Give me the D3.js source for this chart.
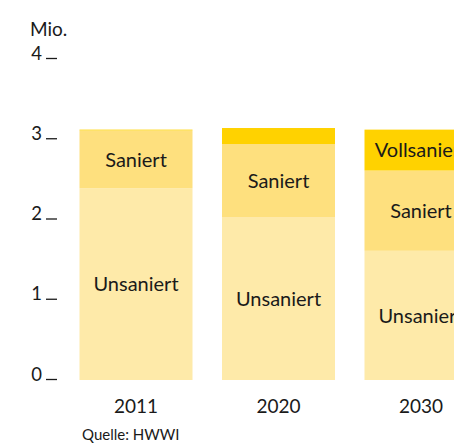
<!DOCTYPE html>
<html><head><meta charset="utf-8">
<script src="https://cdn.jsdelivr.net/npm/d3@7"></script>
<style>
html,body{margin:0;padding:0;background:#fff;overflow:hidden;}
svg{display:block;font-family:Lato, "Open Sans", sans-serif;}
</style></head>
<body>
<svg id="chart" width="454" height="443"></svg>
<script>
const categories = ["2011", "2020", "2030"];
const seriesNames = ["Unsaniert", "Saniert", "Vollsaniert"];
const unsaniert = [2.39, 2.03, 1.61];
const saniert = [0.72, 0.91, 1.00];
const vollsaniert = [0.01, 0.20, 0.51];
const showLabel = [[true, true, false], [true, true, false], [true, true, true]];
const yTicks = [0, 1, 2, 3, 4];
const yUnit = "Mio.";
const source = "Quelle: HWWI";
const colors = ["#feeaa9", "#fee07e", "#ffd200"];

const svg = d3.select("#chart");
const x = d3.scaleBand().domain(categories).range([79.5, 477.5]).paddingInner(0.207).paddingOuter(0);
const y = d3.scaleLinear().domain([0, 4]).range([380, 59]);

const rows = categories.map((c, i) => ({cat: c, i, Unsaniert: unsaniert[i], Saniert: saniert[i], Vollsaniert: vollsaniert[i]}));
const stack = d3.stack().keys(seriesNames)(rows);

const g = svg.append("g");
stack.forEach((layer, si) => {
  g.selectAll(null).data(layer).enter().append("rect")
    .attr("x", d => x(d.data.cat))
    .attr("width", x.bandwidth())
    .attr("y", d => y(d[1]))
    .attr("height", d => y(d[0]) - y(d[1]))
    .attr("fill", colors[si]);
});
stack.forEach((layer, si) => {
  g.selectAll(null).data(layer.filter(d => showLabel[d.data.i][si])).enter().append("text")
    .attr("x", d => x(d.data.cat) + x.bandwidth() / 2)
    .attr("y", d => y((d[0] + d[1]) / 2))
    .attr("dy", "0.36em")
    .attr("text-anchor", "middle")
    .attr("font-size", 20)
    .attr("fill", "#1a1a1a")
    .text(seriesNames[si]);
});

// y axis
const yAxis = d3.axisLeft(y).tickValues(yTicks).tickSize(0).tickPadding(0).tickFormat(d3.format("d"));
const ya = svg.append("g").attr("transform", "translate(42,0)").call(yAxis);
ya.select(".domain").remove();
ya.selectAll("text").attr("font-size", 18.5).attr("fill", "#1a1a1a").attr("dy", 0)
  .attr("font-family", "Lato, 'Open Sans', sans-serif");
ya.selectAll(".tick").append("line").attr("x1", 4).attr("x2", 15).attr("y1", -1).attr("y2", -1)
  .attr("stroke", "#1a1a1a").attr("stroke-width", 1.3);
svg.append("text").attr("x", 30).attr("y", 36).attr("font-size", 19).attr("fill", "#1a1a1a").text(yUnit);

// x axis
const xAxis = d3.axisBottom(x).tickSize(0).tickPadding(0);
const xa = svg.append("g").attr("transform", "translate(0,413)").call(xAxis);
xa.select(".domain").remove();
xa.selectAll("text").attr("font-size", 19).attr("fill", "#1a1a1a").attr("dy", 0)
  .attr("font-family", "Lato, 'Open Sans', sans-serif");

svg.append("text").attr("x", 82).attr("y", 440).attr("font-size", 15).attr("fill", "#1a1a1a").text(source);
</script>
</body></html>
